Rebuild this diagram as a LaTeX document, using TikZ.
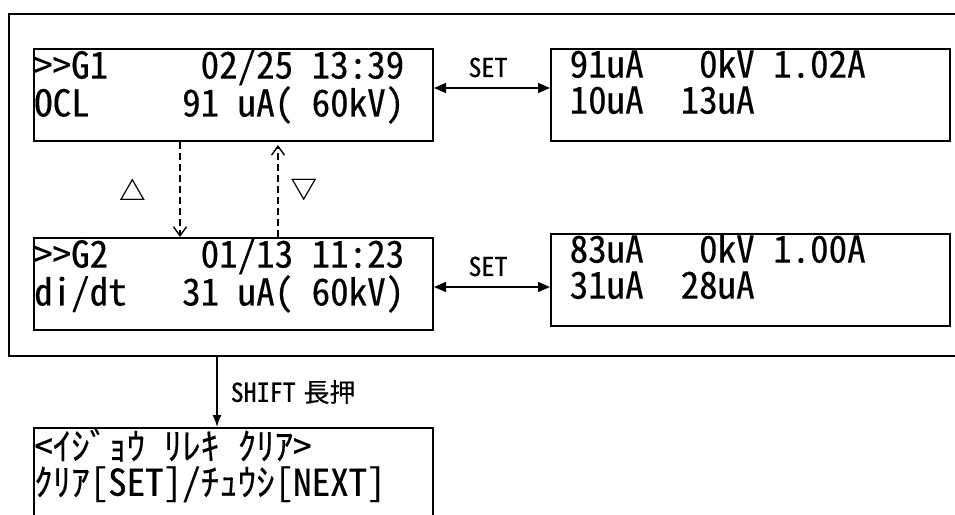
\documentclass[tikz,border=0pt]{standalone}
\usepackage{fontspec}
\usetikzlibrary{arrows.meta, positioning, calc}
\newfontfamily\lcdfont[RawFeature=+hwid, FakeBold=0.35]{Noto Sans CJK JP}
% one character cell of the display
\newcommand{\cellfix}{\fontdimen2\font=.5em\fontdimen3\font=0pt\fontdimen4\font=0pt}
\newcommand{\gap}[1]{\hspace*{#1\dimexpr.5em\relax}}
\tikzset{
	% display windows
	lcdbox/.style   ={rectangle, draw=black, line width=2pt, anchor=north west, inner sep=0pt, minimum width=399pt, minimum height=92pt},
	lcdtxt/.style   ={anchor=north west, inner sep=0pt, align=left, xshift=1pt, yshift=-1pt, font=\lcdfont\fontsize{37pt}{36pt}\selectfont\cellfix, execute at begin node=\rule{0pt}{32pt}},
	grpframe/.style ={rectangle, draw=black, line width=2pt, anchor=north west, inner sep=0pt, minimum width=1000pt, minimum height=342pt},
	% connectors and their labels
	setarr/.style   ={{Triangle[length=12pt, width=10pt]}-{Triangle[length=12pt, width=10pt]}, line width=1.4pt},
	nav/.style      ={-{Straight Barb[length=9pt, width=13pt]}, line width=1.4pt, dash pattern=on 7pt off 4pt},
	shiftarr/.style ={-{Latex[length=12pt, width=9pt]}, line width=1.4pt},
	keylbl/.style   ={inner sep=0pt, font=\lcdfont\fontsize{26pt}{30pt}\selectfont\cellfix},
	trilbl/.style   ={inner sep=0pt, font=\lcdfont\fontsize{26pt}{30pt}\selectfont},
}
\begin{document}
\begin{tikzpicture}[x=1pt, y=-1pt]
	\useasboundingbox (0,0) rectangle (955,514);
	\clip (0,0) rectangle (955,514);
	\node[grpframe] (grp) at (8,13) {};
	% event screens
	\node[lcdbox] (g1) at (33,48) {};
	\node[lcdtxt] (g1t) at (g1.north west) {>>G1\gap{5}02/25 13:39\\OCL\gap{5}91 uA( 60kV)};
	\node[lcdbox] (g2) at (33,237) {};
	\node[lcdtxt] (g2t) at (g2.north west) {>>G2\gap{5}01/13 11:23\\di/dt\gap{3}31 uA( 60kV)};
	% detail screens
	\node[lcdbox] (r1) at (550,48) {};
	\node[lcdtxt] (r1t) at (r1.north west) {\gap{1}91uA\gap{3}0kV 1.02A\\\gap{1}10uA\gap{2}13uA};
	\node[lcdbox] (r2) at (550,233) {};
	\node[lcdtxt] (r2t) at (r2.north west) {\gap{1}83uA\gap{3}0kV 1.00A\\\gap{1}31uA\gap{2}28uA};
	% clear screen
	\node[lcdbox, minimum height=120pt] (clr) at (33,427) {};
	\node[lcdtxt] (clrt) at (clr.north west) {<ｲｼﾞｮｳ ﾘﾚｷ ｸﾘｱ>\\ｸﾘｱ[SET]/ﾁｭｳｼ[NEXT]};
	\coordinate (dn) at (180,0);
	\coordinate (up) at (278,0);
	\coordinate (set1) at (0,88);
	\coordinate (set2) at (0,287);
	\coordinate (sx) at (217,0);
	\draw[nav] (g1.south -| dn) -- (g2.north -| dn) node[trilbl, midway, left=34pt] (prev) {△};
	\draw[nav, shorten >=3pt] (g2.north -| up) -- (g1.south -| up) node[trilbl, midway, right=12pt] (next) {▽};
	\draw[setarr] (g1.east |- set1) -- (r1.west |- set1) node[keylbl, midway, above=10pt, xshift=-4pt] (set1l) {SET};
	\draw[setarr] (g2.east |- set2) -- (r2.west |- set2) node[keylbl, midway, above=10pt, xshift=-4pt] (set2l) {SET};
	\draw[shiftarr] (grp.south -| sx) -- (clr.north -| sx) node[keylbl, midway, right=13pt] (lng) {SHIFT\hspace{.3em}長押};
\end{tikzpicture}
\end{document}
